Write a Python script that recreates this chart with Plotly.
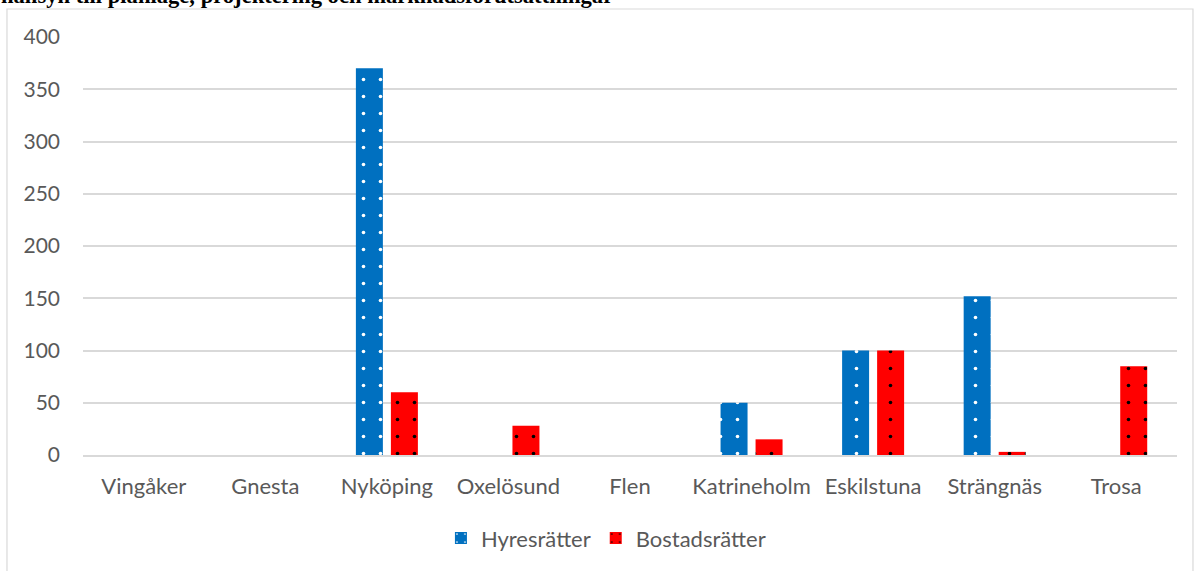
import plotly.graph_objects as go

kommuner = ["Vingåker", "Gnesta", "Nyköping", "Oxelösund", "Flen",
            "Katrineholm", "Eskilstuna", "Strängnäs", "Trosa"]
hyresratter = [0, 0, 370, 0, 0, 50, 100, 152, 0]
bostadsratter = [0, 0, 60, 28, 0, 15, 100, 3, 85]
y_ticks = [0, 50, 100, 150, 200, 250, 300, 350, 400]

BLUE = "#0070C0"
RED = "#FF0000"
GRID = "#D9D9D9"
TEXT = "#595959"
FONT = "Lato"


def dotted_bar(name, values, color, dot):
    return go.Bar(
        name=name,
        x=kommuner,
        y=values,
        marker=dict(
            color=color,
            line=dict(width=0),
            pattern=dict(shape=".", fillmode="replace", bgcolor=color,
                         fgcolor=dot, size=17, solidity=0.035),
        ),
    )


fig = go.Figure(data=[
    dotted_bar("Hyresrätter", hyresratter, BLUE, "white"),
    dotted_bar("Bostadsrätter", bostadsratter, RED, "black"),
])

fig.update_layout(
    width=1194, height=571,
    margin=dict(l=83, r=17, t=37, b=116),
    paper_bgcolor="white", plot_bgcolor="white",
    barmode="group", bargap=0.424, bargroupgap=0.229,
    font=dict(family=FONT, size=21, color=TEXT),
    showlegend=True,
    legend=dict(orientation="h", x=0.478, xanchor="center",
                y=-0.199, yanchor="middle",
                font=dict(family=FONT, size=22, color=TEXT),
                itemwidth=30),
    xaxis=dict(showgrid=False, showline=True, linecolor=GRID, linewidth=1.5,
               ticks="", ticklabelstandoff=11,
               tickfont=dict(size=22, color=TEXT)),
    yaxis=dict(range=[0, 400], tickvals=y_ticks, showgrid=True,
               gridcolor=GRID, gridwidth=1.5, zeroline=False,
               showline=False, ticks="", ticklabelstandoff=22,
               tickfont=dict(size=21, color=TEXT)),
)

# chart-area border, partially outside the picture as in the source
fig.add_shape(type="rect", xref="paper", yref="paper",
              x0=-0.0695, x1=1.0146, y0=-0.30, y1=1.067,
              line=dict(color=GRID, width=1.2), fillcolor="rgba(0,0,0,0)",
              layer="below")

# clipped heading from the surrounding document
fig.add_annotation(
    text="<b>hänsyn till planläge, projektering och marknadsförutsättningar</b>",
    xref="paper", yref="paper", x=-0.077, y=1.064,
    xanchor="left", yanchor="bottom", showarrow=False,
    font=dict(family="Liberation Serif", size=22.6, color="black"),
)

fig.write_html("out.html", config={"displayModeBar": False},
               post_script="document.body.style.margin = '0';")
